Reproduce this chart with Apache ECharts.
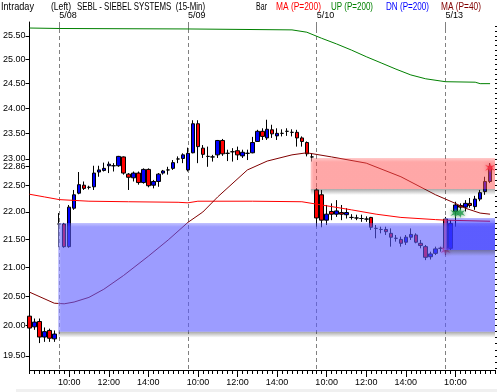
<!DOCTYPE html>
<html><head><meta charset="utf-8">
<script src="https://cdn.jsdelivr.net/npm/echarts@6/dist/echarts.min.js"></script>
<style>html,body{margin:0;padding:0;background:#fff}#c{width:497px;height:392px}</style>
</head><body><div id="c"></div>
<script>
// ---- categories (15-min bars) ----
const days = ['5/07','5/08','5/09','5/10','5/13'];
const firstBarTime = ['14:30','9:30','9:30','9:30','9:30'];
const barsPerDay = [6, 26, 26, 26, 10];
const timeTickLabels = ['10:00','12:00','14:00'];

// ---- OHLC (price) ----
const opens  = [20.16,19.98,20.07,19.81,19.92,19.78, 21.78,21.78,21.37,22.07,22.35,22.50,22.46,22.47,22.75,22.78,22.87,22.87,22.87,23.04,22.71,22.64,22.73,22.55,22.80,22.50,22.57,22.73,22.79,22.82,23.00,23.01,
  22.79,23.12,23.69,23.21,23.05,23.04,23.08,23.36,23.11,23.14,23.16,23.06,23.11,23.12,23.34,23.54,23.41,23.57,23.45,23.50,23.54,23.52,23.52,23.41,23.32,23.04,
  22.41,22.32,21.85,22.01,21.96,21.99,21.95,21.90,21.89,21.88,21.87,21.90,21.70,21.68,21.68,21.61,21.52,21.50,21.45,21.54,21.58,21.43,21.37,21.19,21.25,21.34,
  21.87,21.34,22.01,22.12,22.09,22.16,22.10,22.24,22.38,22.57];
const closes = [19.96,20.06,19.81,19.90,19.79,19.86, 21.78,21.37,22.09,22.32,22.51,22.44,22.46,22.73,22.79,22.82,22.90,22.87,23.05,22.73,22.65,22.73,22.55,22.80,22.49,22.57,22.71,22.77,22.79,22.93,23.00,23.08,
  23.11,23.69,23.24,23.09,23.05,23.04,23.36,23.10,23.11,23.14,23.08,23.13,23.11,23.32,23.54,23.44,23.58,23.49,23.50,23.50,23.54,23.52,23.41,23.34,23.10,23.04,
  21.89,21.85,21.96,21.96,22.02,21.96,21.99,21.90,21.89,21.88,21.87,21.72,21.70,21.68,21.64,21.54,21.52,21.43,21.54,21.59,21.45,21.39,21.18,21.24,21.33,21.34,
  21.34,21.79,22.13,22.09,22.16,22.12,22.24,22.36,22.57,22.86];
const lows   = [19.88,19.93,19.71,19.73,19.73,19.73, 21.36,21.35,21.35,22.04,22.33,22.41,22.42,22.41,22.66,22.76,22.73,22.76,22.85,22.70,22.41,22.57,22.51,22.53,22.46,22.44,22.47,22.70,22.70,22.79,22.92,22.92,
  22.76,23.11,22.92,23.02,22.85,22.95,23.02,23.06,22.96,22.95,22.98,23.02,22.98,23.11,23.34,23.37,23.37,23.41,23.37,23.44,23.45,23.44,23.24,23.24,23.05,22.95,
  21.73,21.72,21.76,21.85,21.91,21.85,21.88,21.86,21.85,21.82,21.82,21.67,21.52,21.61,21.58,21.37,21.46,21.37,21.40,21.49,21.43,21.34,21.13,21.14,21.22,21.28,
  21.22,21.31,21.73,22.04,22.01,22.08,22.04,22.20,22.32,22.54];
const highs  = [20.22,20.12,20.12,19.97,19.95,19.92, 21.98,21.80,22.13,22.41,22.75,22.57,22.49,22.87,22.87,22.93,22.95,22.92,23.06,23.05,22.73,22.76,22.76,22.82,22.82,22.60,22.73,22.79,22.85,22.98,23.05,23.11,
  23.22,23.76,23.76,23.27,23.24,23.08,23.37,23.39,23.18,23.21,23.24,23.18,23.18,23.43,23.57,23.60,23.77,23.67,23.60,23.58,23.60,23.58,23.57,23.44,23.34,23.11,
  22.45,22.41,22.13,22.16,22.22,22.13,22.07,21.96,21.95,21.95,21.92,21.91,21.76,21.73,21.73,21.70,21.58,21.55,21.58,21.70,21.61,21.49,21.40,21.28,21.37,21.37,
  21.91,21.85,22.19,22.16,22.22,22.26,22.30,22.41,22.66,22.92];

// ---- overlay lines (sampled bar index -> price) ----
const ma200Idx = [0,3,6,10,12,20,30,32,34,45,55,59,65,70,75,82,84,93];
const ma200Val = [22.33,22.28,22.23,22.21,22.20,22.19,22.18,22.17,22.20,22.20,22.19,22.13,22.04,21.96,21.90,21.86,21.85,21.83];
const upIdx = [0,6,32,53,56,59,62,65,68,71,74,77,80,84,90,91,93];
const upVal = [25.67,25.66,25.65,25.63,25.58,25.45,25.33,25.20,25.06,24.93,24.80,24.68,24.60,24.54,24.53,24.50,24.50];
const ma40Idx = [0,5,7,9,12,15,19,24,28,32,35,38,44,48,53,56,61,68,75,82,86,88,91,93];
const ma40Val = [20.57,20.38,20.37,20.40,20.48,20.62,20.86,21.20,21.49,21.81,22.00,22.28,22.79,22.96,23.08,23.12,23.04,22.92,22.66,22.32,22.16,22.07,21.98,21.96];

// ---- zones (start bar, low, high) ----
const zoneStart = [6, 57, 84];
const zoneLow   = [19.90, 22.43, 21.31];
const zoneHigh  = [21.80, 23.02, 21.89];
const zoneFill  = [[90,90,255,0.6],[255,80,80,0.5],[40,40,255,0.55]];

// ---- signal markers ----
const buyIdx = [86, 87];  const buyVal = [21.98, 21.98];
const sellIdx = [84, 93]; const sellVal = [21.31, 22.83];

// ---- y tick labels ----
const yTickLabels = [19.50,20.00,20.50,21.00,21.50,22.00,22.50,22.86,23.00,23.50,24.00,24.50,25.00,25.50];
const yMinPrice = 19.27, yMaxPrice = 25.80;

// ---- header texts ----
const headerTexts = ['Intraday','(Left)','SEBL - SIEBEL SYSTEMS  (15-Min)','Bar','MA (P=200)','UP (P=200)','DN (P=200)','MA (P=40)'];
const headerColors = ['#000','#000','#000','#000','#ff0000','#008000','#0000ff','#800000'];
const headerLeft  = [1, 51, 77, 256, 276, 331, 386, 441];
const headerWidth = [33, 20, 128, 11, 45, 42, 43, 40];

// ---------------------------------------------------------
const L = Math.log;
const cats = [], dayStart = {}, timeOf = [];
function addMin(t, m){ let [h,mm]=t.split(':').map(Number); let tot=h*60+mm+m; return Math.floor(tot/60)+':'+String(tot%60).padStart(2,'0'); }
days.forEach((d,di)=>{
  for(let k=0;k<barsPerDay[di];k++){
    const t = addMin(firstBarTime[di], 15*k);
    if(di>0 && k===0) dayStart[cats.length] = d;
    timeOf.push(t);
    cats.push(d+' '+t);
  }
});
cats.push(''); timeOf.push('');

const minorTicks = [];
for(let v=19.3; v<=25.81; v+=0.1) minorTicks.push(L(v));

const FONT = '"Liberation Sans",Arial,sans-serif';
const HFONT = '11px "Liberation Sans",Arial,sans-serif';
const mctx = document.createElement('canvas').getContext('2d');
mctx.font = HFONT;

const chart = echarts.init(document.getElementById('c'));
const isDay = (i)=> dayStart[i] !== undefined;
const isTimeTick = (i)=> timeTickLabels.indexOf(timeOf[i])>=0;

const star = 'path://M0,-10 L2,-3 L9,-6 L4,0 L9,6 L2,3 L0,10 L-2,3 L-9,6 L-4,0 L-9,-6 L-2,-3 Z';
const rgba = (c,a)=>'rgba('+c[0]+','+c[1]+','+c[2]+','+a+')';

const graphics = headerTexts.map((t,k)=>({
  type:'text', x:headerLeft[k], y:1, scaleX: headerWidth[k]/mctx.measureText(t).width,
  style:{text:t, font:HFONT, fill:headerColors[k], verticalAlign:'top'}
}));
graphics.push({type:'rect',left:16,top:389,shape:{width:481,height:3},style:{fill:'#f0f0f0'}});

chart.setOption({
  animation:false,
  backgroundColor:'#fff',
  grid:{left:25,right:2,top:22,bottom:22},
  xAxis:[
    {type:'category',data:cats,boundaryGap:false,position:'bottom',
     axisLine:{lineStyle:{color:'#000',width:1}},
     axisTick:{show:true,interval:0,length:4,lineStyle:{color:'#000'}},
     axisLabel:{interval:(i)=>isTimeTick(i),formatter:(v,i)=>timeOf[i],color:'#000',fontSize:9,fontFamily:FONT,margin:8},
     splitLine:{show:false}},
    {type:'category',data:cats,boundaryGap:false,position:'bottom',
     axisLine:{show:false},
     axisTick:{show:true,interval:(i)=>isTimeTick(i),length:7,lineStyle:{color:'#000'}},
     axisLabel:{show:false},splitLine:{show:false}},
    {type:'category',data:cats,boundaryGap:false,position:'top',
     axisLine:{show:false},
     axisTick:{show:true,inside:true,interval:(i)=>isDay(i),length:8,lineStyle:{color:'#808080'}},
     axisLabel:{interval:(i)=>isDay(i),formatter:(v,i)=>dayStart[i]||'',align:'left',color:'#000',fontSize:9,fontFamily:FONT,margin:2},
     splitLine:{show:true,interval:(i)=>isDay(i),lineStyle:{color:'#808080',width:1,type:[4,3]}}}
  ],
  yAxis:[
    {type:'value',min:L(yMinPrice),max:L(yMaxPrice),
     axisLine:{show:true,lineStyle:{color:'#000'}},
     axisTick:{show:true,customValues:yTickLabels.map(L),length:4,lineStyle:{color:'#000'}},
     axisLabel:{customValues:yTickLabels.map(L),formatter:(v)=>Math.exp(v).toFixed(2),color:'#000',fontSize:9,fontFamily:FONT,margin:4},
     splitLine:{show:false}},
    {type:'value',min:L(yMinPrice),max:L(yMaxPrice),
     axisLine:{show:false},
     axisTick:{show:true,customValues:minorTicks,length:2,lineStyle:{color:'#000'}},
     axisLabel:{show:false},splitLine:{show:false}}
  ],
  series:[
    {type:'candlestick',z:2,barWidth:4,
     data:opens.map((o,i)=>[L(o),L(closes[i]),L(lows[i]),L(highs[i])]),
     itemStyle:{color:'#0000ff',color0:'#ff0000',borderColor:'#000',borderColor0:'#000',borderColorDoji:'#000',borderWidth:1}},
    {type:'line',z:3,symbol:'none',data:ma200Idx.map((x,k)=>[x,L(ma200Val[k])]),lineStyle:{color:'#ff0000',width:1}},
    {type:'line',z:3,symbol:'none',data:upIdx.map((x,k)=>[x,L(upVal[k])]),lineStyle:{color:'#008000',width:1}},
    {type:'line',z:3,symbol:'none',data:ma40Idx.map((x,k)=>[x,L(ma40Val[k])]),lineStyle:{color:'#800000',width:1}},
    {type:'scatter',z:4,symbol:star,symbolSize:10,data:buyIdx.map((x,k)=>[x,L(buyVal[k])]),
     itemStyle:{color:'#1f9a4a',shadowBlur:4,shadowColor:'rgba(0,120,40,0.8)'}},
    {type:'scatter',z:4,symbol:star,symbolSize:10,data:sellIdx.map((x,k)=>[x,L(sellVal[k])]),
     itemStyle:{color:'#ff1030',shadowBlur:4,shadowColor:'rgba(200,0,40,0.8)'}},
    {type:'custom',z:6,silent:true,
     data:zoneStart.map((s,k)=>[s,L(zoneLow[k]),L(zoneHigh[k])]),
     renderItem:(params,api)=>{
       const s=api.value(0);
       const pTop=api.coord([s,api.value(2)]), pBot=api.coord([s,api.value(1)]);
       const cs=params.coordSys; const x0=pTop[0]-1;
       const w=cs.x+cs.width-x0, h=pBot[1]-pTop[1];
       const c=zoneFill[params.dataIndex];
       const edge=Math.min(0.3,4/h);
       return {type:'group',children:[
         {type:'rect',shape:{x:x0,y:pBot[1],width:w,height:6},
          style:{fill:{type:'linear',x:0,y:0,x2:0,y2:1,colorStops:[{offset:0,color:'rgba(60,60,60,0.45)'},{offset:1,color:'rgba(60,60,60,0)'}]}}},
         {type:'rect',shape:{x:x0,y:pTop[1],width:w,height:h},
          style:{fill:{type:'linear',x:0,y:0,x2:0,y2:1,colorStops:[
            {offset:0,color:rgba(c,c[3]*0.6)},{offset:edge,color:rgba(c,c[3])},{offset:1,color:rgba(c,c[3])}]}}},
         {type:'rect',shape:{x:x0,y:pTop[1],width:3,height:h},
          style:{fill:{type:'linear',x:0,y:0,x2:1,y2:0,colorStops:[{offset:0,color:'rgba(255,255,255,0.35)'},{offset:1,color:'rgba(255,255,255,0)'}]}}}
       ]};
     }}
  ],
  graphic:graphics
});
</script></body></html>
